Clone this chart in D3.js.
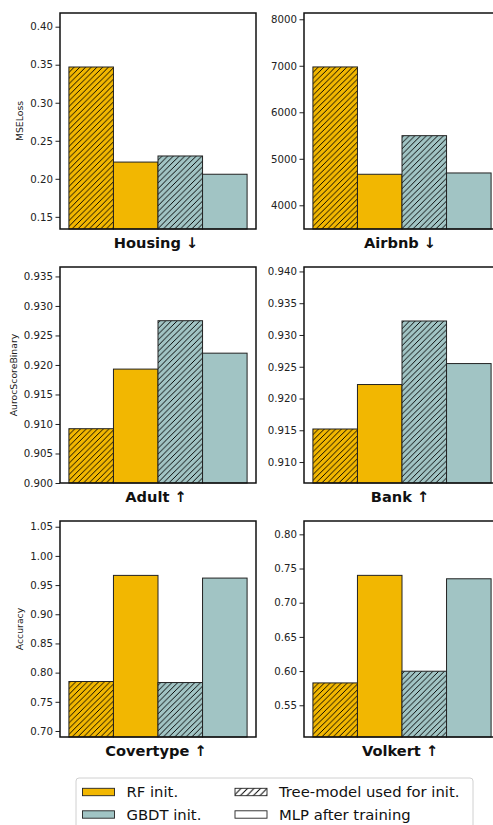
<!DOCTYPE html>
<html>
<head>
<meta charset="utf-8">
<script src="https://cdn.jsdelivr.net/npm/d3@7"></script>
<style>
  body { margin: 0; background: #fff; }
  svg { display: block; font-family: "DejaVu Sans", sans-serif; }
</style>
</head>
<body>
<svg id="chart" width="493" height="825"></svg>
<script>
// dataset panels, row by row
const datasets = ["Housing", "Airbnb", "Adult", "Bank", "Covertype", "Volkert"];
const arrows = ["↓", "↓", "↑", "↑", "↑", "↑"];
const metrics = ["MSELoss", "", "AurocScoreBinary", "", "Accuracy", ""];

// bar values
const rfTree = [0.347, 6975, 0.9092, 0.9152, 0.7848, 0.5827];
const rfMlp = [0.222, 4667, 0.9193, 0.9222, 0.9666, 0.740];
const gbdtTree = [0.230, 5497, 0.9275, 0.9322, 0.783, 0.5998];
const gbdtMlp = [0.206, 4695, 0.9220, 0.9255, 0.962, 0.735];

// y limits and ticks per panel
const yLims = [[0.134, 0.418], [3490, 8135], [0.900, 0.9366], [0.9067, 0.9407], [0.6897, 1.0598], [0.5036, 0.8195]];
const yTicks = [
  [0.15, 0.20, 0.25, 0.30, 0.35, 0.40],
  [4000, 5000, 6000, 7000, 8000],
  [0.900, 0.905, 0.910, 0.915, 0.920, 0.925, 0.930, 0.935],
  [0.910, 0.915, 0.920, 0.925, 0.930, 0.935, 0.940],
  [0.70, 0.75, 0.80, 0.85, 0.90, 0.95, 1.00, 1.05],
  [0.55, 0.60, 0.65, 0.70, 0.75, 0.80]
];
const tickFormats = [".2f", "d", ".3f", ".3f", ".2f", ".2f"];

const barKeys = ["rfTree", "rfMlp", "gbdtTree", "gbdtMlp"];
const legendItems = ["RF init.", "GBDT init.", "Tree-model used for init.", "MLP after training"];

const colors = { rf: "#f2b701", gbdt: "#a1c4c4" };

const svg = d3.select("#chart");

// hatch pattern "///"
const defs = svg.append("defs");
function addHatch(id, bg, s) {
  const p = defs.append("pattern")
    .attr("id", id)
    .attr("patternUnits", "userSpaceOnUse")
    .attr("width", s)
    .attr("height", s);
  p.append("rect").attr("width", s).attr("height", s).attr("fill", bg);
  p.append("path")
    .attr("d", `M0,${s} L${s},0 M${-s / 2},${s / 2} L${s / 2},${-s / 2} M${s / 2},${s * 1.5} L${s * 1.5},${s / 2}`)
    .attr("stroke", "#000")
    .attr("stroke-width", 0.95);
}
addHatch("hatch-rf", colors.rf, 5.7);
addHatch("hatch-gbdt", colors.gbdt, 5.7);
addHatch("hatch-white", "#fff", 6.5);

const fills = {
  rfTree: "url(#hatch-rf)",
  rfMlp: colors.rf,
  gbdtTree: "url(#hatch-gbdt)",
  gbdtMlp: colors.gbdt
};

const colX = [60, 304];
const rowY = [13, 267, 521];
const panelW = 196;
const panelH = 216;

datasets.forEach((name, i) => {
  const left = colX[i % 2];
  const top = rowY[Math.floor(i / 2)];
  const g = svg.append("g").attr("transform", `translate(${left},${top})`);

  const values = {
    rfTree: rfTree[i],
    rfMlp: rfMlp[i],
    gbdtTree: gbdtTree[i],
    gbdtMlp: gbdtMlp[i]
  };

  const x = d3.scaleBand()
    .domain(barKeys)
    .range([0, panelW])
    .paddingInner(0)
    .paddingOuter(0.2);

  const y = d3.scaleLinear()
    .domain(yLims[i])
    .range([panelH, 0]);

  g.selectAll("rect.bar")
    .data(barKeys)
    .join("rect")
    .attr("class", "bar")
    .attr("x", (d) => x(d))
    .attr("width", x.bandwidth())
    .attr("y", (d) => y(values[d]))
    .attr("height", (d) => y(yLims[i][0]) - y(values[d]))
    .attr("fill", (d) => fills[d])
    .attr("stroke", "#222")
    .attr("stroke-width", 1);

  // y axis
  const axis = g.append("g")
    .call(d3.axisLeft(y)
      .tickValues(yTicks[i])
      .tickFormat(d3.format(tickFormats[i]))
      .tickSize(4.5)
      .tickPadding(2.5)
      .tickSizeOuter(0));
  axis.select(".domain").remove();
  axis.selectAll("text")
    .attr("font-size", 10.2)
    .attr("fill", "#222")
    .attr("font-family", "DejaVu Sans, sans-serif");
  axis.selectAll("line").attr("stroke", "#222");

  // frame
  g.append("rect")
    .attr("width", panelW)
    .attr("height", panelH)
    .attr("fill", "none")
    .attr("stroke", "#111")
    .attr("stroke-width", 1.5);

  // title under the panel
  g.append("text")
    .attr("x", panelW / 2 - 2)
    .attr("y", panelH + 19)
    .attr("text-anchor", "middle")
    .attr("font-size", 14.6)
    .attr("font-weight", "bold")
    .attr("fill", "#111")
    .text(`${name} ${arrows[i]}`);

  if (metrics[i]) {
    g.append("text")
      .attr("transform", `translate(${i === 2 ? -43 : -37},${panelH / 2}) rotate(-90)`)
      .attr("text-anchor", "middle")
      .attr("font-size", 9.3)
      .attr("fill", "#222")
      .text(metrics[i]);
  }
});

// legend
const legend = svg.append("g").attr("transform", "translate(76,778)");
legend.append("rect")
  .attr("width", 397)
  .attr("height", 60)
  .attr("rx", 3)
  .attr("fill", "#fff")
  .attr("stroke", "#d0d0d0")
  .attr("stroke-width", 1);

const legendFills = [colors.rf, colors.gbdt, "url(#hatch-white)", "#fff"];
const legendPos = [[6.5, 14], [6.5, 36.5], [159, 14], [159, 36.5]];

legendItems.forEach((label, k) => {
  const [lx, ly] = legendPos[k];
  legend.append("rect")
    .attr("x", lx)
    .attr("y", ly - 3.7)
    .attr("width", 32)
    .attr("height", 7.4)
    .attr("fill", legendFills[k])
    .attr("stroke", "#222")
    .attr("stroke-width", 0.9);
  legend.append("text")
    .attr("x", lx + 44)
    .attr("y", ly + 5.2)
    .attr("font-size", 14.8)
    .attr("fill", "#111")
    .text(label);
});
</script>
</body>
</html>
